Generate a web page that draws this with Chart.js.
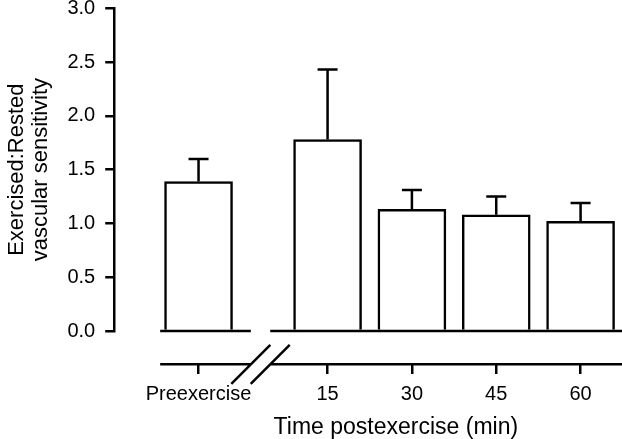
<!DOCTYPE html>
<html>
<head>
<meta charset="utf-8">
<script src="https://cdn.jsdelivr.net/npm/chart.js@4.4.1/dist/chart.umd.min.js"></script>
<style>
    html, body { margin: 0; padding: 0; background: #fff; }
    canvas { display: block; }
</style>
</head>
<body>
<canvas id="sensitivityChart" width="622" height="439"></canvas>
<script>
const categories = ['Preexercise', '15', '30', '45', '60'];
const ratioValues = [1.39, 1.78, 1.13, 1.08, 1.02];
const ratioErrors = [0.21, 0.65, 0.18, 0.17, 0.17];
const yTicks = [0, 0.5, 1.0, 1.5, 2.0, 2.5, 3.0];
const xTitle = 'Time postexercise (min)';
const yTitle = ['Exercised:Rested', 'vascular sensitivity'];

const chartConfig = {
    ink: '#000',
    font: '"Liberation Sans", Arial, Helvetica, sans-serif',
    lineWidth: 2.5
};

// Preexercise stands apart, the postexercise times come after the axis break
const BREAK_GAP = 0.53;
const xPos = i => (i === 0 ? 0 : i + BREAK_GAP);
const AXIS_Y = -0.31; // y value where the lower x axis is drawn

const errorBars = {
    id: 'errorBars',
    afterDatasetsDraw(chart) {
        const meta = chart.getDatasetMeta(0);
        const yScale = chart.scales.y;
        const ctx = chart.ctx;
        ctx.save();
        ctx.strokeStyle = chartConfig.ink;
        ctx.lineWidth = chartConfig.lineWidth;
        meta.data.forEach((bar, i) => {
            const top = yScale.getPixelForValue(ratioValues[i] + ratioErrors[i]);
            ctx.beginPath();
            ctx.moveTo(bar.x, bar.y);
            ctx.lineTo(bar.x, top);
            ctx.moveTo(bar.x - 10, top);
            ctx.lineTo(bar.x + 10, top);
            ctx.stroke();
        });
        ctx.restore();
    }
};

// baseline and lower axis, both cut by the // break, plus the x title
const brokenAxis = {
    id: 'brokenAxis',
    afterDraw(chart) {
        const { ctx, scales: { x, y } } = chart;
        const start = x.getPixelForValue(-0.455);
        const cutA = x.getPixelForValue(0.62);
        const cutB = x.getPixelForValue(0.85);
        const end = chart.width;
        const base = y.getPixelForValue(0);
        const axis = y.getPixelForValue(AXIS_Y);
        ctx.save();
        ctx.strokeStyle = chartConfig.ink;
        ctx.lineWidth = chartConfig.lineWidth;
        ctx.beginPath();
        [base, axis].forEach(py => {
            ctx.moveTo(start, py);
            ctx.lineTo(cutA, py);
            ctx.moveTo(cutB, py);
            ctx.lineTo(end, py);
        });
        [cutA, cutB].forEach(px => {
            ctx.moveTo(px - 19.5, axis + 19.5);
            ctx.lineTo(px + 19.5, axis - 19.5);
        });
        ctx.stroke();

        ctx.fillStyle = chartConfig.ink;
        ctx.font = '23px ' + chartConfig.font;
        ctx.textAlign = 'center';
        ctx.textBaseline = 'alphabetic';
        ctx.fillText(xTitle, x.getPixelForValue(2.34), axis + 69.5);
        ctx.restore();
    }
};

Chart.defaults.font.family = chartConfig.font;
Chart.defaults.color = chartConfig.ink;

new Chart(document.getElementById('sensitivityChart'), {
    type: 'bar',
    data: {
        datasets: [{
            data: categories.map((c, i) => ({ x: xPos(i), y: ratioValues[i] })),
            backgroundColor: '#fff',
            borderColor: chartConfig.ink,
            borderWidth: chartConfig.lineWidth,
            borderSkipped: 'start',
            barThickness: 68
        }]
    },
    options: {
        responsive: false,
        animation: false,
        layout: {
            padding: { top: 0, right: 6, bottom: 108, left: 0 }
        },
        scales: {
            x: {
                type: 'linear',
                min: -1,
                max: 4.95,
                offset: false,
                position: { y: AXIS_Y },
                border: { display: false },
                grid: {
                    drawOnChartArea: false,
                    drawTicks: true,
                    tickLength: 10,
                    color: chartConfig.ink,
                    lineWidth: chartConfig.lineWidth,
                    offset: false
                },
                afterBuildTicks: scale => {
                    scale.ticks = categories.map((c, i) => ({ value: xPos(i) }));
                },
                ticks: {
                    autoSkip: false,
                    maxRotation: 0,
                    padding: 8,
                    color: chartConfig.ink,
                    font: { size: 20 },
                    callback: (value, index) => categories[index]
                }
            },
            y: {
                min: 0,
                max: 3,
                border: { display: true, color: chartConfig.ink, width: chartConfig.lineWidth },
                grid: {
                    drawOnChartArea: false,
                    drawTicks: true,
                    tickLength: 9,
                    color: chartConfig.ink,
                    lineWidth: chartConfig.lineWidth
                },
                afterBuildTicks: scale => {
                    scale.ticks = yTicks.map(v => ({ value: v }));
                },
                // the top label may overhang the plot, as in the original figure
                afterFit: scale => {
                    scale.paddingTop = 8.3;
                },
                ticks: {
                    padding: 10,
                    color: chartConfig.ink,
                    font: { size: 20 },
                    callback: value => value.toFixed(1)
                },
                title: {
                    display: true,
                    text: yTitle,
                    color: chartConfig.ink,
                    font: { size: 22, lineHeight: 1.1 },
                    padding: { top: 5, bottom: 4 }
                }
            }
        },
        plugins: {
            legend: { display: false },
            tooltip: { enabled: false }
        }
    },
    plugins: [errorBars, brokenAxis]
});
</script>
</body>
</html>
